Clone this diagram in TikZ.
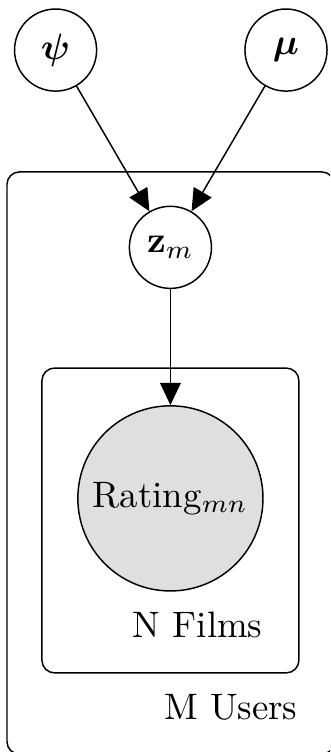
\documentclass[tikz,border=0pt]{standalone}
\usepackage{amsmath}
\usepackage{amsbsy}
\usepackage{tikz}
\usetikzlibrary{arrows.meta,positioning}
\tikzset{
  latent/.style={circle, draw, minimum size=22.3pt, inner sep=0pt},
  observed/.style={circle, draw, fill=gray!25, minimum size=50.3pt, inner sep=0pt},
  plate/.style={draw, rounded corners=3.4pt},
  platelabel/.style={anchor=base east, inner sep=0pt},
  edge/.style={-{Triangle[length=6pt, width=5.6pt]}}
}
\begin{document}
\begin{tikzpicture}[x=1pt, y=1pt]
  \useasboundingbox (0,0) rectangle (89.66,204.3);
  \clip (0,0) rectangle (89.66,204.3);
  % nodes
  \node[latent] (psi) at (15.1,190.7) {$\boldsymbol{\psi}$};
  \node[latent] (mu) at (77.7,190.7) {$\boldsymbol{\mu}$};
  \node[latent] (zm) at (46.3,137.1) {$\mathbf{z}_m$};
  \node[observed, below=31.5pt of zm] (rating) {Rating$_{mn}$};
  % plates
  \draw[plate] (11.4,21.5) rectangle (81.2,104.3);
  \node[platelabel] (films) at (71.5,31.2) {N Films};
  \draw[plate] (1.9,-0.6) rectangle (90.8,157.6);
  \node[platelabel] (users) at (81.0,8.7) {M Users};
  % edges
  \draw[edge] (psi) -- (zm);
  \draw[edge] (mu) -- (zm);
  \draw[edge] (zm) -- (rating);
\end{tikzpicture}
\end{document}
